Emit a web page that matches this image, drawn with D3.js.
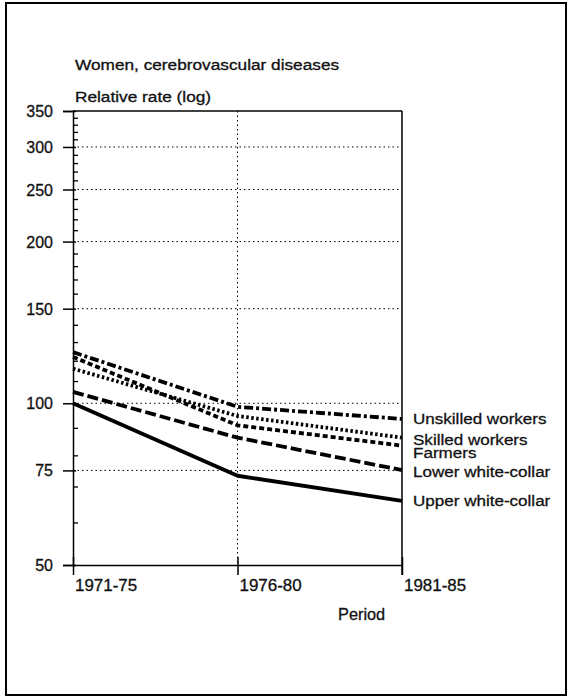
<!DOCTYPE html>
<html><head><meta charset="utf-8">
<script src="https://cdn.jsdelivr.net/npm/d3@7"></script>
<style>
html,body{margin:0;padding:0;background:#fff;}
svg{display:block;font-family:"Liberation Sans",Arial,Helvetica,sans-serif;}
</style></head>
<body><svg id="c" width="571" height="698"></svg>
<script>
const periods = ["1971-75", "1976-80", "1981-85"];
const seriesNames = ["Unskilled workers", "Skilled workers", "Farmers", "Lower white-collar", "Upper white-collar"];
const unskilled = [124.5, 98.5, 93.5];
const skilled = [116, 94.7, 86.3];
const farmers = [122, 91, 83.4];
const lowerWhiteCollar = [105, 86.3, 75.1];
const upperWhiteCollar = [100, 73.3, 65.8];
const majorTicks = [50, 75, 100, 150, 200, 250, 300, 350];
const minorTicks = [60, 70, 80, 90, 110, 120, 130, 140, 160, 170, 180, 190, 210, 220, 230, 240, 260, 270, 280, 290, 310, 320, 330, 340];
const gridTicks = [75, 100, 150, 200, 250, 300];

const seriesValues = [unskilled, skilled, farmers, lowerWhiteCollar, upperWhiteCollar];
const dashes = ["9,3,3,3", "2.5,2.5", "5,3", "11,4", null];
const labelNudge = [0, 2, 7, 1, 0];

const svg = d3.select("#c");
const L = 73, R = 402, T = 111, B = 565;
const x = d3.scalePoint().domain(periods).range([L, R]);
const y = d3.scaleLog().domain([50, 350]).range([B, T]);

svg.append("rect").attr("x", 6).attr("y", 3).attr("width", 560).attr("height", 692)
  .attr("fill", "none").attr("stroke", "#000").attr("stroke-width", 2);

function txt(g, s, tx, ty, size, sx, anchor) {
  return g.append("text").attr("transform", `translate(${tx},${ty}) scale(${sx},1)`)
    .attr("font-size", size).attr("text-anchor", anchor || "start").attr("fill", "#111")
    .attr("stroke", "#111").attr("stroke-width", 0.3).text(s);
}

// grid
svg.append("g").selectAll("line").data(gridTicks).join("line")
  .attr("x1", L).attr("x2", R).attr("y1", d => y(d)).attr("y2", d => y(d))
  .attr("stroke", "#000").attr("stroke-width", 1).attr("stroke-dasharray", "1.5,3");
svg.append("line").attr("x1", x(periods[1])).attr("x2", x(periods[1])).attr("y1", T).attr("y2", B)
  .attr("stroke", "#000").attr("stroke-width", 1).attr("stroke-dasharray", "1.5,3");

// frame lines of plot
svg.append("line").attr("x1", L).attr("x2", R).attr("y1", T).attr("y2", T).attr("stroke", "#000").attr("stroke-width", 1.5);
svg.append("line").attr("x1", R).attr("x2", R).attr("y1", T).attr("y2", B + 10).attr("stroke", "#000").attr("stroke-width", 1.5);

// y axis major
const yAx = svg.append("g").attr("transform", `translate(${L},0)`)
  .call(d3.axisLeft(y).tickValues(majorTicks).tickFormat(d3.format("d")).tickSize(10).tickPadding(10));
yAx.select(".domain").attr("stroke-width", 1.5);
yAx.selectAll(".tick line").attr("x2", 3).attr("x1", -10).attr("stroke-width", 1.5);
yAx.selectAll(".tick text").remove();
majorTicks.forEach(v => txt(svg, d3.format("d")(v), 53, y(v) + 6, 16, 1.0, "end"));
// y minor
const yMin = svg.append("g").attr("transform", `translate(${L},0)`)
  .call(d3.axisRight(y).tickValues(minorTicks).tickFormat("").tickSize(5));
yMin.select(".domain").remove();
yMin.selectAll(".tick line").attr("stroke-width", 1.3);

// x axis
const xAx = svg.append("g").attr("transform", `translate(0,${B})`)
  .call(d3.axisBottom(x).tickSize(10).tickSizeOuter(0));
xAx.select(".domain").attr("stroke-width", 1.5);
xAx.selectAll(".tick line").attr("y1", -8).attr("stroke-width", 1.5);
xAx.selectAll(".tick text").remove();
periods.forEach(p => txt(svg, p, x(p) + 2, 591, 16, 1.06, "start"));

// lines
const line = d3.line().x((d, i) => x(periods[i])).y(d => y(d));
seriesValues.forEach((vals, k) => {
  const p = svg.append("path").datum(vals).attr("d", line).attr("fill", "none")
    .attr("stroke", "#000").attr("stroke-width", 3.8).attr("stroke-linejoin", "round");
  if (dashes[k]) p.attr("stroke-dasharray", dashes[k]);
  txt(svg, seriesNames[k], 413, y(vals[2]) + labelNudge[k] + 5.5, 15.5, 1.1, "start");
});

// titles
txt(svg, "Women, cerebrovascular diseases", 75, 70, 14.5, 1.19, "start");
txt(svg, "Relative rate (log)", 75, 102, 14.5, 1.19, "start");
txt(svg, "Period", 338, 620, 16, 1.02, "start");
</script></body></html>
